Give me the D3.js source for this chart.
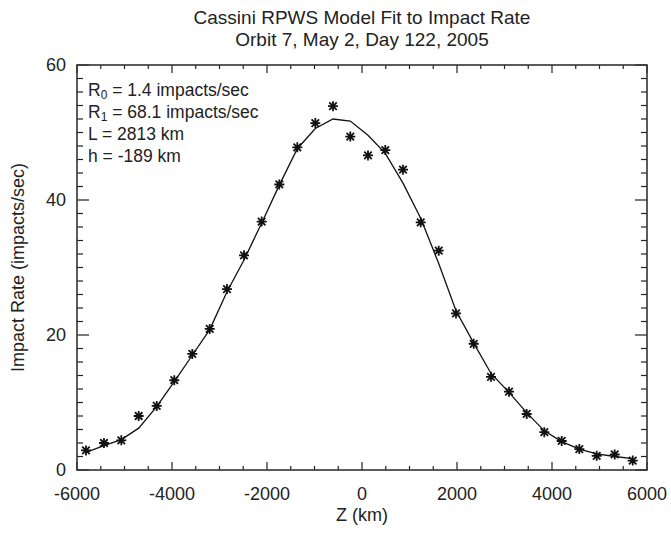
<!DOCTYPE html>
<html>
<head>
<meta charset="utf-8">
<script src="https://cdn.jsdelivr.net/npm/d3@7"></script>
<style>
  body { margin: 0; background: #fff; }
  text { font-family: "Liberation Sans", Arial, sans-serif; fill: #222; }
</style>
</head>
<body>
<div id="chart"></div>
<script>
// measured data: Z (km) and impact rate (impacts/sec)
const zKm = [-5811, -5432, -5067, -4701, -4322, -3952, -3573, -3206, -2842, -2484,
  -2112, -1741, -1362, -983, -611, -246, 126, 491, 863, 1236,
  1615, 1979, 2352, 2716, 3095, 3467, 3838, 4204, 4575, 4941, 5320, 5699];
const rateObs = [2.9, 4.0, 4.4, 8.0, 9.5, 13.3, 17.2, 20.9, 26.8, 31.8,
  36.8, 42.3, 47.8, 51.4, 53.9, 49.4, 46.6, 47.4, 44.5, 36.7,
  32.5, 23.2, 18.7, 13.8, 11.6, 8.3, 5.6, 4.3, 3.1, 2.1, 2.3, 1.4];
// model fit curve at the same Z values
const rateFit = [2.6, 3.6, 4.5, 6.2, 9.4, 13.1, 17.0, 20.8, 26.4, 31.1,
  36.6, 42.2, 47.6, 50.6, 52.0, 51.7, 49.6, 46.9, 42.5, 37.3,
  30.6, 23.6, 18.8, 14.3, 11.5, 8.5, 5.8, 4.2, 3.1, 2.4, 2.0, 1.7];

const xTicks = [-6000, -4000, -2000, 0, 2000, 4000, 6000];
const yTicks = [0, 20, 40, 60];
const titleLines = ["Cassini RPWS Model Fit to Impact Rate", "Orbit 7, May 2, Day 122, 2005"];
const notes = [
  ["R", "0", " = 1.4 impacts/sec"],
  ["R", "1", " = 68.1 impacts/sec"],
  ["L = 2813 km", "", ""],
  ["h = -189 km", "", ""]
];

const width = 671, height = 533;
const pLeft = 77, pRight = 647, pTop = 65, pBottom = 470;

const svg = d3.select('#chart').append('svg')
  .attr('width', width)
  .attr('height', height);

const x = d3.scaleLinear().domain([-6000, 6000]).range([pLeft, pRight]);
const y = d3.scaleLinear().domain([0, 60]).range([pBottom, pTop]);

const ink = '#222';

// tick marks on all four sides, pointing inward
const xMinor = d3.range(-6000, 6001, 500);
const yMinor = d3.range(0, 61, 2);
const xLen = d => (d % 2000 === 0 ? 8 : 4);
const yLen = d => (d % 20 === 0 ? 12 : 6);

const ticks = svg.append('g').attr('stroke', ink).attr('stroke-width', 1.2);
xMinor.forEach(d => {
  ticks.append('line').attr('x1', x(d)).attr('x2', x(d)).attr('y1', pBottom).attr('y2', pBottom - xLen(d));
  ticks.append('line').attr('x1', x(d)).attr('x2', x(d)).attr('y1', pTop).attr('y2', pTop + xLen(d));
});
yMinor.forEach(d => {
  ticks.append('line').attr('y1', y(d)).attr('y2', y(d)).attr('x1', pLeft).attr('x2', pLeft + yLen(d));
  ticks.append('line').attr('y1', y(d)).attr('y2', y(d)).attr('x1', pRight).attr('x2', pRight - yLen(d));
});

// frame
svg.append('rect')
  .attr('x', pLeft).attr('y', pTop)
  .attr('width', pRight - pLeft).attr('height', pBottom - pTop)
  .attr('fill', 'none').attr('stroke', '#333').attr('stroke-width', 1.6);

// tick labels
svg.selectAll('.xlab').data(xTicks).enter().append('text')
  .attr('x', d => x(d)).attr('y', 500)
  .attr('text-anchor', 'middle').attr('font-size', 18)
  .text(d => d);

svg.selectAll('.ylab').data(yTicks).enter().append('text')
  .attr('x', 66).attr('y', d => y(d) + 6)
  .attr('text-anchor', 'end').attr('font-size', 18)
  .text(d => d);

// axis titles
svg.append('text')
  .attr('x', x(0)).attr('y', 521)
  .attr('text-anchor', 'middle').attr('font-size', 18)
  .text('Z (km)');

svg.append('text')
  .attr('transform', 'translate(24,' + ((pTop + pBottom) / 2) + ') rotate(-90)')
  .attr('text-anchor', 'middle').attr('font-size', 18)
  .text('Impact Rate (impacts/sec)');

// title
svg.selectAll('.title').data(titleLines).enter().append('text')
  .attr('x', x(0)).attr('y', (d, i) => 24 + i * 22)
  .attr('text-anchor', 'middle').attr('font-size', 19)
  .text(d => d);

// notes with subscripts
notes.forEach((n, i) => {
  const t = svg.append('text')
    .attr('x', 88).attr('y', 96 + i * 22)
    .attr('font-size', 17.5);
  t.append('tspan').text(n[0]);
  if (n[1]) {
    t.append('tspan').attr('font-size', 12).attr('dy', 3).text(n[1]);
    t.append('tspan').attr('dy', -3).text(n[2]);
  }
});

// model curve
const line = d3.line()
  .x((d, i) => x(zKm[i]))
  .y(d => y(d));

svg.append('path')
  .datum(rateFit)
  .attr('d', line)
  .attr('fill', 'none')
  .attr('stroke', '#111')
  .attr('stroke-width', 1.3);

// asterisk markers
const r = 5;
const star = 'M' + (-r) + ',0L' + r + ',0M0,' + (-r) + 'L0,' + r +
  'M' + (-r * 0.75) + ',' + (-r * 0.75) + 'L' + (r * 0.75) + ',' + (r * 0.75) +
  'M' + (-r * 0.75) + ',' + (r * 0.75) + 'L' + (r * 0.75) + ',' + (-r * 0.75);

svg.selectAll('.pt').data(rateObs).enter().append('path')
  .attr('class', 'pt')
  .attr('transform', (d, i) => 'translate(' + x(zKm[i]) + ',' + y(d) + ')')
  .attr('d', star)
  .attr('fill', 'none')
  .attr('stroke', '#111')
  .attr('stroke-width', 1.8);
</script>
</body>
</html>
